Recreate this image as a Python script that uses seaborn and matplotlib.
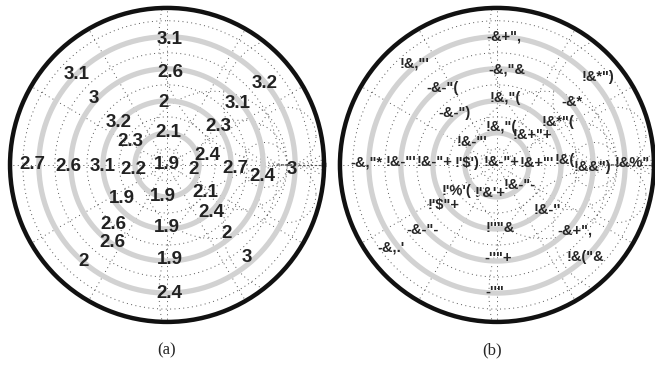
import numpy as np
import pandas as pd
import seaborn as sns
import matplotlib.pyplot as plt

# anillos (radio) y posiciones de las etiquetas
anillos = [1, 2, 3, 4]
r_max = 4.9

ang_a = [0, 88, 93, 88, 89, 13, 37, 41, 40, 349, 357, 353, 358, 148, 139, 138, 135,
         187, 181, 181, 180, 217, 228, 235, 229, 263, 270, 272, 271, 324, 313, 311, 311]
rad_a = [0, 1.0, 1.94, 2.88, 3.91, 1.28, 2.0, 2.9, 3.97, 0.83, 2.13, 2.99, 3.91, 1.36, 2.02, 3.08, 4.0,
         1.07, 2.0, 3.09, 4.19, 1.76, 2.52, 2.96, 3.99, 0.98, 1.94, 2.94, 4.0, 1.47, 2.01, 2.83, 3.81]
val_a = ['1.9', '2.1', '2', '2.6', '3.1', '2.4', '2.3', '3.1', '3.2', '2', '2.7', '2.4', '3',
         '2.3', '3.2', '3', '3.1', '2.2', '3.1', '2.6', '2.7', '1.9', '2.6', '2.6', '2',
         '1.9', '1.9', '1.9', '2.4', '2.1', '2.4', '2', '3']

ang_b = [31, 83, 83, 84, 87, 40, 35, 40, 41, 3, 4, 359, 1, 137, 129, 125, 129,
         176, 177, 178, 179, 213, 217, 221, 218, 256, 273, 271, 269, 319, 318, 320, 314]
rad_b = [0.18, 1.2, 2.11, 2.99, 4.0, 1.46, 2.33, 3.06, 4.19, 1.25, 2.12, 2.97, 4.22, 1.06, 2.09, 2.94, 4.09,
         0.95, 1.95, 2.99, 4.06, 1.5, 2.1, 3.08, 4.18, 0.9, 1.97, 2.9, 3.97, 0.95, 2.1, 3.17, 3.98]
lab_b = ['!&-"+', '!&,"(', '!&,"(', '-&,"&', '-&+",', '!&+"+', '!&*"(', '-&*', '!&*")',
         '!&+"\'', '!&(', '!&&")', '!&%"', '!&-"\'', '-&-")', '-&-"(', '!&,"\'',
         '!\'$\')', '!&-"+', '!&-"\'', '-&,"*', '!\'%\'(', '!\'$"+', '-&-"-', '-&,.\'',
         '!\'&\'+', '!\'\'"&', '-\'\'"+', '-\'\'"', '!&-"-', '!&-\'\'', '-&+",', '!&("&']

sns.set_theme(style='white')
plt.rcParams['font.family'] = ['Liberation Sans', 'DejaVu Sans']

fig = plt.figure(figsize=(6.55, 3.65), dpi=100)
ax_a = fig.add_axes([0.0153, 0.118, 0.4794, 0.8603], projection='polar')
ax_b = fig.add_axes([0.519, 0.118, 0.4794, 0.8603], projection='polar')

t = np.linspace(0, 2 * np.pi, 400)
punto = 3.75  # punto donde convergen las lineas punteadas


def circulo(cx, cy, R):
    x = cx + R * np.cos(t)
    y = cy + R * np.sin(t)
    th, rr = np.arctan2(y, x), np.hypot(x, y)
    rr = np.where(rr <= r_max, rr, np.nan)
    return th, rr


def rejilla(ax):
    ax.grid(False)
    ax.set_xticks([])
    ax.set_yticks([])
    ax.set_ylim(0, r_max)
    estilo = dict(color='#555555', lw=0.7, ls=(0, (1, 3.5)))
    for a in range(0, 360, 30):
        ax.plot([np.radians(a)] * 2, [0, r_max], **estilo)
    for rc in [0.5, 1.5, 2.5, 3.5, 4.5]:
        ax.plot(t, np.full_like(t, rc), **estilo)
    for R in [0.7, 1.4, 2.3]:
        ax.plot(*circulo(punto - R, 0, R), **estilo)
    for Y in [0.9, 2.0, 4.0]:
        ax.plot(*circulo(punto, Y, Y), **estilo)
        ax.plot(*circulo(punto, -Y, Y), **estilo)
    ax.plot([0, 0], [punto, r_max], color='#555555', lw=0.8, ls=(0, (2, 1.5)))
    for rc in anillos:
        sns.lineplot(x=t, y=np.full_like(t, rc), ax=ax, color='#d2d2d2', lw=3.8,
                     sort=False, estimator=None)
    ax.spines['polar'].set_linewidth(3.2)
    ax.spines['polar'].set_color('#111111')


rejilla(ax_a)
rejilla(ax_b)

for a, r, v in zip(ang_a, rad_a, val_a):
    ax_a.text(np.radians(a), r, v, ha='center', va='center', fontsize=13.5,
              fontweight='bold', color='#222222')

for a, r, v in zip(ang_b, rad_b, lab_b):
    ax_b.text(np.radians(a), r, v, ha='center', va='center', fontsize=10.5,
              fontweight='bold', color='#262626')

fig.text(167 / 655, 1 - 350 / 365, '(a)', ha='center', va='center', fontsize=12,
         family='Liberation Serif')
fig.text(492 / 655, 1 - 350 / 365, '(b)', ha='center', va='center', fontsize=12,
         family='Liberation Serif')

fig.savefig('out.png', dpi=100)
